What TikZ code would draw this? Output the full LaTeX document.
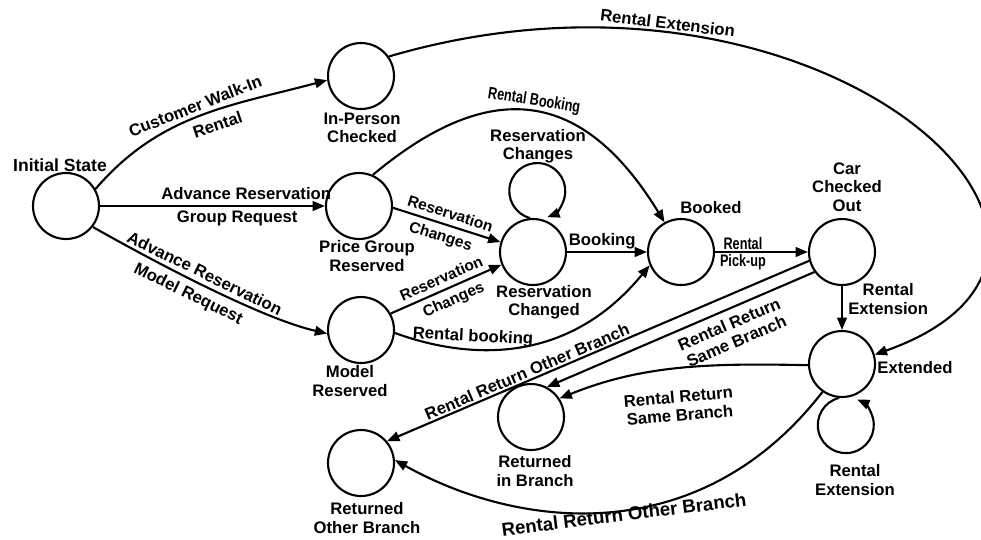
\documentclass[tikz,border=0pt]{standalone}
\usepackage{fontspec}
\setmainfont{Liberation Sans}
\usetikzlibrary{arrows.meta}

\newcommand{\narrowtxt}[1]{\scalebox{0.76}[1]{#1}}

\begin{document}
\begin{tikzpicture}[x=0.02cm, y=-0.02cm,
    state/.style={draw, circle, line width=1.2pt, minimum size=1.32cm, inner sep=0pt},
    lbl/.style={font=\bfseries\fontsize{9.5}{10.5}\selectfont, align=center, inner sep=1pt},
    lblsmall/.style={font=\bfseries\fontsize{8.8}{10}\selectfont, inner sep=1pt},
    lblbig/.style={font=\bfseries\fontsize{10.6}{12}\selectfont, inner sep=0.5pt},
    arr/.style={line width=1.2pt, -{Triangle[length=7pt, width=5.5pt]}}]
    \useasboundingbox (0,0) rectangle (981,539);

    % States
    \node[state] (init) at (66,206) {};
    \node[state] (inperson) at (361,76) {};
    \node[state] (price) at (359,206) {};
    \node[state] (model) at (361,330) {};
    \node[state] (changed) at (533,252) {};
    \node[state] (booked) at (681,252) {};
    \node[state] (car) at (842,252) {};
    \node[state] (extended) at (842,364) {};
    \node[state] (retin) at (531,417) {};
    \node[state] (retother) at (361,463) {};

    % State names
    \node[lbl, font=\bfseries\fontsize{10}{11}\selectfont] (initLbl) at (60,165) {Initial State};
    \node[lbl] (inpLbl) at (362,128) {In-Person\\Checked};
    \node[lbl] (priceLbl) at (367,256) {Price Group\\Reserved};
    \node[lbl] (modelLbl) at (350,381) {Model\\Reserved};
    \node[lbl] (chgLbl) at (544,302) {Reservation\\Changed};
    \node[lbl] (bookedLbl) at (711,208) {Booked};
    \node[lbl] (carLbl) at (847,187) {Car\\Checked\\Out};
    \node[lbl] (extLbl) at (915,368) {Extended};
    \node[lbl] (retinLbl) at (535,471) {Returned\\in Branch};
    \node[lbl] (retoLbl) at (367,518) {Returned\\Other Branch};

    % From the initial state
    \draw[arr] (init.30) .. controls (160,114) and (230,106) .. (inperson.187)
        node[lbl, sloped, above=1pt, pos=0.5] (walkin) {Customer Walk-In}
        node[lbl, sloped, below=3pt, pos=0.56] (walkinB) {Rental};
    \draw[arr] (init.east) -- (price.west)
        node[lbl, above=2pt, pos=0.65] (advG) {Advance Reservation}
        node[lbl, below=1pt, pos=0.61] (grpReq) {Group Request};
    \draw[arr] (init.-38) .. controls (153,261) and (260,318) .. (model.186)
        node[lbl, sloped, above=1.5pt, pos=0.47] (advM) {Advance Reservation}
        node[lbl, sloped, below=2.5pt, pos=0.45] (modReq) {Model Request};

    % Long extension arc over the top
    \draw[arr] (inperson.35) .. controls (820,-70) and (1170,250) .. (extended.16)
        node[lbl, sloped, above, pos=0.23] (extTop) {Rental Extension};

    % Reservations
    \draw[arr] (price.66) .. controls (491,76) and (583,89) .. (booked.119)
        node[lbl, sloped, above, pos=0.5] (rbTop) {\narrowtxt{Rental Booking}};
    \draw[arr] (price.-3) -- (changed.163)
        node[lblsmall, sloped, above=2pt, pos=0.5] (resA) {Reservation}
        node[lblsmall, sloped, below=2pt, pos=0.48] (chgA) {Changes};
    \draw[arr] (model.29) -- (changed.202)
        node[lblsmall, sloped, above=2pt, pos=0.5] (resB) {Reservation}
        node[lblsmall, sloped, below=2pt, pos=0.52] (chgB) {Changes};
    \draw[arr] (changed.95) arc[start angle=105, end angle=429, radius=28];
    \node[lbl] (loopLbl) at (538,146) {Reservation\\Changes};
    \draw[arr] (changed.east) -- (booked.west)
        node[lbl, above, pos=0.44] (bkg) {Booking};
    \draw[arr] (model.-5) .. controls (469,360) and (568,365) .. (booked.203)
        node[lbl, sloped, above=1pt, pos=0.32] (rbLow) {Rental booking};

    % Pick-up and extension
    \draw[arr] (booked.east) -- (car.west)
        node[lbl, above, pos=0.3] (pickA) {\narrowtxt{Rental}}
        node[lbl, below, pos=0.3] (pickB) {\narrowtxt{Pick-up}};
    \draw[arr] (car.south) -- (extended.north)
        node[lbl, right=2pt, pos=0.3] (extMid) {Rental\\Extension};
    \draw[arr] (extended.265) arc[start angle=256, end angle=-66, radius=28];
    \node[lbl] (loop2Lbl) at (855,480) {Rental\\Extension};

    % Returns
    \draw[arr] (car.195) -- (retother.40)
        node[lbl, sloped, above, pos=0.66] (rrOther) {Rental Return Other Branch};
    \draw[arr] (car.216) -- (retin.62)
        node[lbl, sloped, below=3pt, pos=0.34] (rrSame) {Rental Return\\Same Branch};
    \draw[arr] (extended.182) .. controls (709,363) and (642,365) .. (retin.33)
        node[lbl, below=11pt, pos=0.5, rotate=5] (rrSameB) {Rental Return\\Same Branch};
    \draw[arr] (extended.235) .. controls (700,550) and (520,530) .. (retother.5)
        node[lblbig, sloped, below=-2.5pt, pos=0.47] (rrOtherB) {Rental Return Other Branch};

\end{tikzpicture}
\end{document}
